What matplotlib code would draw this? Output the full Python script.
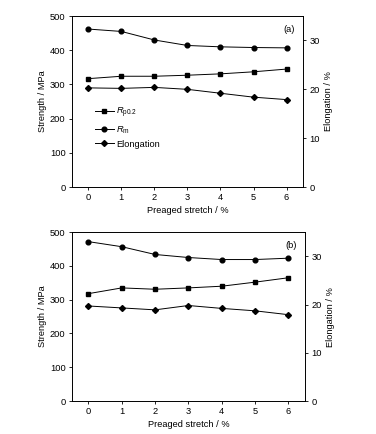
import matplotlib.pyplot as plt

plt.rcParams['font.family'] = ['Liberation Sans', 'DejaVu Sans']
plt.rcParams['mathtext.fontset'] = 'custom'
plt.rcParams['mathtext.rm'] = 'Liberation Sans'
plt.rcParams['mathtext.it'] = 'Liberation Sans:italic'

# Dados
stretch = [0, 1, 2, 3, 4, 5, 6]

rp_a = [317, 324, 324, 327, 331, 337, 345]
rm_a = [462, 455, 430, 414, 410, 408, 407]
el_a = [20.3, 20.2, 20.4, 20.0, 19.2, 18.4, 17.9]

rp_b = [318, 335, 331, 335, 340, 352, 365]
rm_b = [472, 457, 434, 425, 419, 419, 423]
el_b = [19.7, 19.3, 18.9, 19.8, 19.2, 18.7, 17.9]

panels = [('(a)', rp_a, rm_a, el_a, [0.191, 0.569, 0.615, 0.394], True),
          ('(b)', rp_b, rm_b, el_b, [0.191, 0.076, 0.62, 0.389], False)]

fs = 6.7
fig = plt.figure(figsize=(3.76, 4.34), dpi=100)

for tag, rp, rm, el, pos, show_leg in panels:
    ax = fig.add_axes(pos)
    ax2 = ax.twinx()
    l1, = ax.plot(stretch, rp, '-s', color='k', lw=0.7, ms=3.0, label=r'$R_{\mathrm{p0.2}}$')
    l2, = ax.plot(stretch, rm, '-o', color='k', lw=0.7, ms=3.4, label=r'$R_{\mathrm{m}}$')
    l3, = ax2.plot(stretch, el, '-D', color='k', lw=0.7, ms=3.0, label='Elongation')

    ax.set_xlim(-0.5, 6.5)
    ax.set_ylim(0, 500)
    ax2.set_ylim(0, 35)
    ax.set_xticks(stretch)
    ax.set_yticks([0, 100, 200, 300, 400, 500])
    ax2.set_yticks([0, 10, 20, 30])

    ax.set_xlabel('Preaged stretch / %', fontsize=fs, labelpad=3)
    ax.set_ylabel('Strength / MPa', fontsize=fs, labelpad=2)
    ax2.set_ylabel('Elongation / %', fontsize=fs, labelpad=3)

    for a in (ax, ax2):
        a.tick_params(labelsize=fs, width=0.6, length=2.5, pad=2)
        for s in a.spines.values():
            s.set_linewidth(0.6)

    ax.text(0.965, 0.95, tag, transform=ax.transAxes, ha='right', va='top', fontsize=fs)

    if show_leg:
        ax.legend(handles=[l1, l2, l3], loc='center left', bbox_to_anchor=(0.10, 0.35),
                  frameon=False, fontsize=fs, handlelength=2.0, handletextpad=0.3,
                  labelspacing=0.45, borderpad=0, borderaxespad=0)

fig.savefig('out.png', dpi=100)
